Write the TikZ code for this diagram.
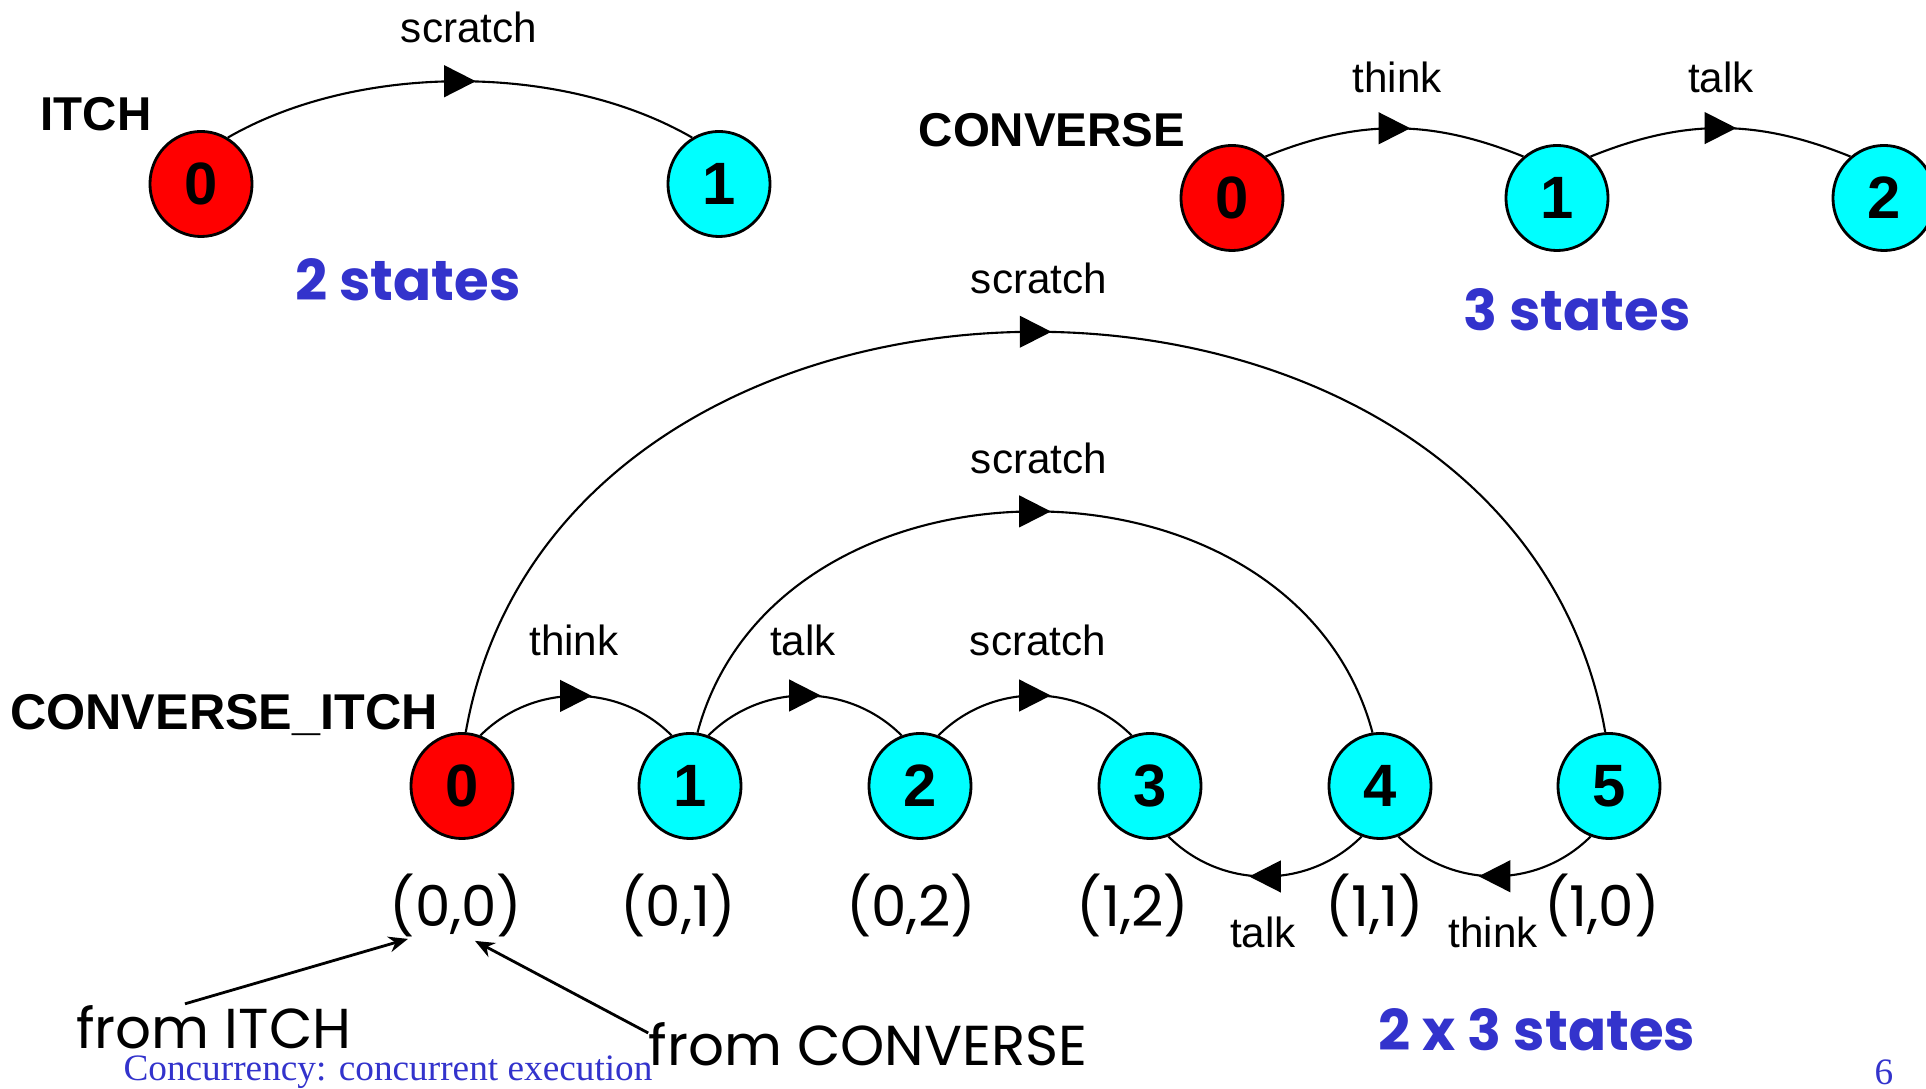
\documentclass[tikz,border=0pt]{standalone}
\usepackage{fontspec}
\setmainfont{Liberation Sans}
\newfontfamily\handfont{Poppins}
\newfontfamily\footfont{Liberation Serif}
\usepackage{tikz}
\usetikzlibrary{arrows.meta}
\usetikzlibrary{shapes.geometric}
\usetikzlibrary{decorations.markings}

\definecolor{initred}{RGB}{255,0,0}
\definecolor{statecyan}{RGB}{0,255,255}
\definecolor{noteblue}{RGB}{51,51,204}

\tikzset{
  lts/.style={ellipse, draw, line width=0.8pt, minimum width=1.02cm,
    minimum height=1.05cm, inner sep=0pt,
    font=\fontsize{17}{17}\selectfont\bfseries},
  initstate/.style={lts, fill=initred},
  plainstate/.style={lts, fill=statecyan},
  trans/.style={line width=0.6pt, postaction={decorate},
    decoration={markings, mark=at position 0.5 with
      {\arrow[xshift=4.5pt]{Triangle[length=9pt,width=9pt]}}}},
  actlabel/.style={font=\fontsize{12}{14}\selectfont},
  procname/.style={font=\fontsize{13.5}{16}\selectfont\bfseries},
  statecount/.style={text=noteblue, font=\handfont\bfseries\fontsize{16}{19}\selectfont},
  tuple/.style={font=\handfont\fontsize{16}{19}\selectfont},
  fromnote/.style={font=\handfont\fontsize{16}{19}\selectfont},
  pointer/.style={line width=0.8pt, -{Stealth[length=5.5pt,width=4.5pt]}},
  slidefoot/.style={text=noteblue, inner sep=0pt, font=\footfont\fontsize{10.6}{12}\selectfont}
}

\begin{document}
\begin{tikzpicture}[x=0.01cm, y=0.01cm]
\useasboundingbox (0,0) rectangle (1926,-1089);

% ITCH
\node[procname] (itch) at (96,-114) {ITCH};
\node[initstate] (i0) at (201,-184) {0};
\node[plainstate] (i1) at (719,-184) {1};
\draw[trans] (i0.60) to[bend left=30, looseness=0.83] (i1.120);
\node[actlabel] (iscratch) at (469,-27) {scratch};
\node[statecount] (itchcount) at (408,-280) {2 states};

% CONVERSE
\node[procname] (conv) at (1052,-130) {CONVERSE};
\node[initstate] (c0) at (1232,-198) {0};
\node[plainstate] (c1) at (1557,-198) {1};
\node[plainstate] (c2) at (1884,-198) {2};
\draw[trans] (c0.51) to[bend left=22] (c1.129);
\draw[trans] (c1.51) to[bend left=22] (c2.129);
\node[actlabel] (cthink) at (1397,-77) {think};
\node[actlabel] (ctalk) at (1721,-77) {talk};
\node[statecount] (convcount) at (1577,-310) {3 states};

% CONVERSE_ITCH
\node[procname, font=\fontsize{14.3}{16}\selectfont\bfseries] (ci) at (224,-715) {CONVERSE\_ITCH};
\node[initstate] (p0) at (462,-786) {0};
\node[plainstate] (p1) at (690,-786) {1};
\node[plainstate] (p2) at (920,-786) {2};
\node[plainstate] (p3) at (1150,-786) {3};
\node[plainstate] (p4) at (1380,-786) {4};
\node[plainstate] (p5) at (1609,-786) {5};

\draw[trans] (p0.70) to[bend left=45] (p1.110);
\draw[trans] (p1.70) to[bend left=45] (p2.110);
\draw[trans] (p2.70) to[bend left=45] (p3.110);
\draw[trans] (p4.-110) to[bend left=45] (p3.-70);
\draw[trans] (p5.-110) to[bend left=45] (p4.-70);
\draw[trans] (p1.82) to[bend left=75, looseness=1.16] (p4.98);
\draw[trans] (p0.86) to[bend left=80, looseness=1.22] (p5.94);

\node[actlabel] (pthink) at (574,-640) {think};
\node[actlabel] (ptalk) at (803,-640) {talk};
\node[actlabel] (pscratch) at (1038,-640) {scratch};
\node[actlabel] (pscratchb) at (1039,-458) {scratch};
\node[actlabel] (pscratchc) at (1039,-278) {scratch};
\node[actlabel] (ptalkb) at (1263,-932) {talk};
\node[actlabel] (pthinkb) at (1493,-932) {think};

\node[tuple] (t00) at (456,-905) {(0,0)};
\node[tuple] (t01) at (678,-905) {(0,1)};
\node[tuple] (t02) at (911,-905) {(0,2)};
\node[tuple] (t12) at (1133,-905) {(1,2)};
\node[tuple] (t11) at (1375,-905) {(1,1)};
\node[tuple] (t10) at (1602,-905) {(1,0)};

\node[fromnote] (fromitch) at (214,-1027) {from ITCH};
\node[fromnote] (fromconv) at (868,-1044) {from CONVERSE};
\draw[pointer] ([xshift=-0.29cm,yshift=-0.11cm]fromitch.north) -- ([xshift=-0.48cm,yshift=0.1cm]t00.south);
\draw[pointer] ([xshift=0.12cm,yshift=0.11cm]fromconv.west) -- ([xshift=0.19cm,yshift=0.08cm]t00.south);

\node[statecount] (prodcount) at (1537,-1030) {2 x 3 states};

\node[slidefoot] (foot) at (388,-1072) {Concurrency: concurrent execution};
\node[slidefoot] (pageno) at (1884,-1072) {6};
\end{tikzpicture}
\end{document}
